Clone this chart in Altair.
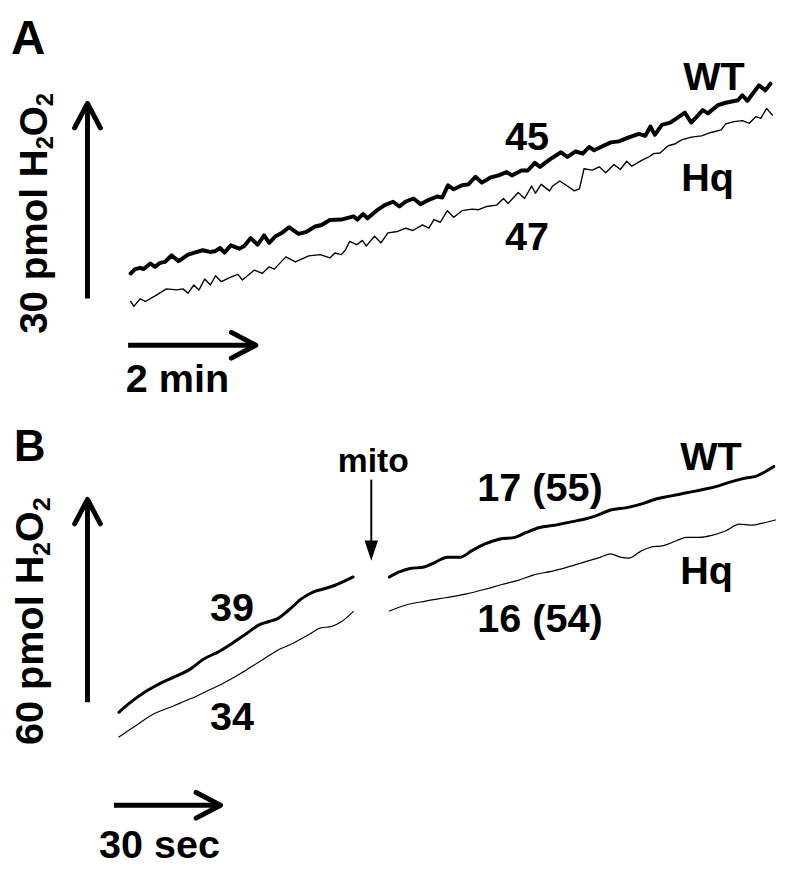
import altair as alt
import pandas as pd

FONT = "Liberation Sans"

# ---------------- Panel A: time (min) vs H2O2 (pmol) ----------------
A_WT = [(0.04,3.85),(0.11,4.52),(0.19,4.72),(0.24,4.52),(0.35,5.38),(0.42,4.87),(0.50,5.48),(0.58,5.63),
        (0.68,6.65),(0.79,5.74),(0.94,6.75),(1.04,7.05),(1.17,7.42),(1.28,7.16),(1.36,7.26),(1.44,7.77),
        (1.51,7.05),(1.61,8.18),(1.74,7.66),(1.82,8.07),(1.92,9.29),(2.03,8.27),(2.13,9.70),(2.21,8.57),
        (2.31,9.59),(2.41,10.10),(2.52,10.96),(2.67,9.94),(2.78,10.20),(2.93,11.07),(3.03,11.31),(3.16,12.08),
        (3.34,12.14),(3.53,12.64),(3.59,12.14),(3.68,12.99),(3.75,12.33),(3.89,13.51),(4.02,14.36),(4.15,14.88),
        (4.25,14.16),(4.35,14.92),(4.47,15.38),(4.58,14.51),(4.71,15.18),(4.84,15.69),(4.92,15.53),(5.01,17.41),
        (5.10,16.80),(5.23,17.41),(5.33,17.56),(5.44,18.73),(5.54,17.82),(5.67,18.58),(5.80,18.93),(5.93,19.45),
        (6.01,18.93),(6.16,19.69),(6.26,19.69),(6.37,20.86),(6.45,20.25),(6.60,21.37),(6.78,22.49),(6.88,21.78),
        (7.01,22.64),(7.12,22.28),(7.22,23.30),(7.30,22.80),(7.43,23.41),(7.56,24.01),(7.69,24.17),(7.81,24.67),
        (8.00,25.32),(8.10,25.02),(8.18,26.45),(8.25,25.17),(8.36,26.70),(8.49,27.06),(8.59,27.72),(8.72,28.58),
        (8.82,27.06),(8.93,28.22),(9.00,28.98),(9.08,28.48),(9.24,29.74),(9.36,30.11),(9.55,30.50),(9.62,31.26),
        (9.70,30.41),(9.88,32.79),(9.98,32.02),(10.06,33.04)]

A_HQ = [(0.04,-0.46),(0.09,-1.22),(0.19,-0.05),(0.27,-0.46),(0.45,0.56),(0.60,1.48),(0.76,1.32),(0.86,1.48),
        (0.94,0.81),(1.03,2.09),(1.11,1.32),(1.20,3.00),(1.29,2.09),(1.37,3.50),(1.46,2.59),(1.59,3.20),
        (1.72,3.70),(1.79,2.85),(1.98,4.37),(2.10,3.85),(2.21,4.87),(2.29,4.52),(2.47,6.40),(2.62,5.63),
        (2.83,6.55),(3.01,6.75),(3.16,6.24),(3.24,7.00),(3.34,6.75),(3.40,7.42),(3.47,8.79),(3.58,8.27),
        (3.67,8.94),(3.73,8.07),(3.86,9.59),(3.96,8.57),(4.07,10.10),(4.22,10.31),(4.35,10.81),(4.46,10.46),
        (4.61,11.31),(4.71,10.81),(4.79,12.14),(4.89,11.73),(5.00,13.51),(5.10,12.49),(5.23,13.51),(5.39,13.75),
        (5.49,13.66),(5.62,14.16),(5.77,14.36),(5.88,15.38),(5.95,14.62),(6.11,16.29),(6.21,15.38),(6.32,17.31),
        (6.38,16.19),(6.47,17.56),(6.60,16.55),(6.65,17.31),(6.76,18.08),(6.88,17.31),(6.99,16.55),(7.07,16.90),
        (7.14,19.95),(7.27,19.75),(7.38,20.25),(7.48,19.34),(7.61,20.60),(7.71,19.84),(7.81,21.12),(7.89,20.36),
        (8.05,21.27),(8.15,21.73),(8.23,22.28),(8.33,22.39),(8.46,23.50),(8.56,23.76),(8.67,24.41),(8.82,24.82),
        (8.98,25.02),(9.13,25.54),(9.29,25.93),(9.36,26.85),(9.49,27.21),(9.62,27.36),(9.73,26.95),(9.83,27.97),
        (9.91,27.72),(10.00,29.24),(10.09,28.22)]

# ---------------- Panel B: time (s) vs H2O2 (pmol) ----------------
B_WT1 = [(1.39,-2.93),(4.65,0.00),(9.28,3.42),(13.45,5.85),(17.63,7.81),(21.36,9.75),(25.07,12.67),
         (29.72,15.13),(33.43,17.56),(37.13,20.19),(40.86,22.91),(43.65,23.91),(45.96,24.67),(49.22,27.30),
         (52.92,30.73),(56.18,32.69),(59.42,33.65),(62.20,34.62),(67.33,37.08)]
B_HQ1 = [(1.39,-10.24),(5.57,-7.32),(11.14,-3.42),(15.79,-1.46),(21.36,0.97),(25.99,3.22),(30.64,5.56),
         (35.29,8.28),(39.00,10.74),(42.70,13.17),(46.43,15.60),(50.61,17.56),(54.79,19.99),(58.02,21.95),
         (61.28,22.45),(64.07,23.91),(67.33,26.84)]
B_WT2 = [(77.52,37.08),(80.31,38.54),(83.09,39.51),(87.27,40.00),(90.53,41.47),(93.79,42.93),(97.49,42.93),
         (100.75,44.86),(104.46,46.82),(108.64,48.29),(112.81,48.78),(116.07,50.25),(119.78,51.71),
         (123.96,52.38),(128.61,53.35),(132.31,54.14),(135.57,55.11),(139.75,56.86),(144.37,57.56),
         (149.03,58.82),(152.73,60.20),(156.46,60.96),(161.09,61.95),(165.74,62.92),(170.39,64.09),
         (174.09,65.35),(177.80,66.34),(180.58,66.81),(183.37,68.27),(185.71,69.74)]
B_HQ2 = [(77.52,27.01),(82.17,28.77),(87.74,29.94),(93.31,30.93),(98.89,31.99),(104.46,33.45),(109.11,34.83),
         (113.73,36.08),(118.38,37.75),(123.04,38.72),(127.66,40.00),(132.31,41.47),(136.96,42.93),
         (139.75,43.90),(142.53,42.93),(144.85,42.64),(148.11,44.57),(150.89,45.86),(154.60,46.33),
         (158.30,47.79),(161.09,48.78),(164.82,48.78),(168.52,49.46),(172.23,50.72),(175.96,52.68),
         (179.67,52.38),(182.45,52.97),(186.16,53.93)]

# scale bars: (label, x0, x1, y0, y1)
A_BARS = [("2 min", 0.0, 2.0, -7.20, -7.20), ("30 pmol", -0.636, -0.636, 0.0, 30.0)]
B_BARS = [("30 sec", 0.0, 30.0, -30.44, -30.44), ("60 pmol", -7.44, -7.44, 0.0, 60.0)]
B_MITO = [("mito", 72.42, 72.42, 65.85, 44.0)]
B_MITO_TIP = [(72.42, 41.85)]

# text labels (text, x, y)
A_LABELS = [("WT", 8.693, 32.13), ("Hq", 8.662, 16.60), ("45", 5.902, 22.84), ("47", 5.902, 7.46),
            ("2 min", -0.036, -14.31)]
B_LABELS = [("WT", 159.33, 68.77), ("Hq", 159.33, 35.12), ("17 (55)", 102.23, 59.41),
            ("16 (54)", 102.23, 20.78), ("39", 27.02, 24.00), ("34", 27.02, -8.19), ("30 sec", -4.18, -45.95)]
A_LETTER = [("A", -1.834, 37.61)]
B_LETTER = [("B", -28.13, 71.41)]
B_MITO_LABEL = [("mito", 72.98, 68.20)]
A_YLABEL = [("30 pmol H", "2", "O", "2", -1.276, -5.44)]
B_YLABEL = [("60 pmol H", "2", "O", "2", -19.92, -12.58)]

A_X_DOMAIN = [-1.881, 10.398]
A_Y_DOMAIN = [-16.90, 44.01]
B_X_DOMAIN = [-29.81, 190.81]
B_Y_DOMAIN = [-50.63, 86.92]


def trace_df(pairs, series, seg):
    return pd.DataFrame({"t": [p[0] for p in pairs], "v": [p[1] for p in pairs],
                         "series": series, "seg": seg})


def panel(xdom, ydom, traces, bars, labels, letter, ylabel, ysizes, wt_w, hq_w, interp,
          width, height, extra=None):
    X = lambda f="t": alt.X(f + ":Q", scale=alt.Scale(domain=xdom, nice=False, zero=False), axis=None)
    Y = lambda f="v": alt.Y(f + ":Q", scale=alt.Scale(domain=ydom, nice=False, zero=False), axis=None)
    layers = []
    df = pd.concat(traces, ignore_index=True)
    for s, w in (("WT", wt_w), ("Hq", hq_w)):
        layers.append(
            alt.Chart(df[df.series == s]).mark_line(color="black", strokeWidth=w, strokeJoin="round",
                                                    strokeCap="round", interpolate=interp)
            .encode(x=X(), y=Y(), detail="seg:N", order="t:Q"))
    bdf = pd.DataFrame(bars, columns=["name", "t", "t2", "v", "v2"])
    layers.append(alt.Chart(bdf).mark_rule(color="black", strokeWidth=5)
                  .encode(x=X(), x2="t2:Q", y=Y(), y2="v2:Q"))
    hx = bdf[bdf.v == bdf.v2]
    vx = bdf[bdf.t == bdf.t2]
    layers.append(alt.Chart(pd.DataFrame({"t": hx.t2, "v": hx.v}))
                  .mark_point(shape="M -1.9 -1 L 0 0 L -1.9 1", filled=False, stroke="black", strokeWidth=5,
                              size=676, strokeCap="round", strokeJoin="round", opacity=1)
                  .encode(x=X(), y=Y()))
    layers.append(alt.Chart(pd.DataFrame({"t": vx.t, "v": vx.v2}))
                  .mark_point(shape="M -1 1.9 L 0 0 L 1 1.9", filled=False, stroke="black", strokeWidth=5,
                              size=676, strokeCap="round", strokeJoin="round", opacity=1)
                  .encode(x=X(), y=Y()))
    ldf = pd.DataFrame(labels, columns=["text", "t", "v"])
    layers.append(alt.Chart(ldf).mark_text(align="left", baseline="alphabetic", font=FONT, fontWeight="bold",
                                           fontSize=40, color="black")
                  .encode(x=X(), y=Y(), text="text:N"))
    lt = pd.DataFrame(letter[0:1], columns=["text", "t", "v"])
    layers.append(alt.Chart(lt).mark_text(align="left", baseline="alphabetic", font=FONT, fontWeight="bold",
                                          fontSize=letter[1], color="black")
                  .encode(x=X(), y=Y(), text="text:N"))
    # rotated y label with subscripts
    main, sub1, o, sub2, yt, yv = ylabel
    big, small, offs, sdy = ysizes
    pieces = [(main, big, offs[0], 0), (sub1, small, offs[1], sdy), (o, big, offs[2], 0), (sub2, small, offs[3], sdy)]
    for txt, fs, dx, dy in pieces:
        layers.append(alt.Chart(pd.DataFrame({"text": [txt], "t": [yt], "v": [yv]}))
                      .mark_text(align="left", baseline="alphabetic", font=FONT, fontWeight="bold",
                                 fontSize=fs, angle=270, dx=dx, dy=dy, color="black")
                      .encode(x=X(), y=Y(), text="text:N"))
    if extra:
        layers.extend(extra(X, Y))
    return alt.layer(*layers).properties(width=width, height=height)


def mito_layers(X, Y):
    mdf = pd.DataFrame(B_MITO, columns=["name", "t", "t2", "v", "v2"])
    out = [alt.Chart(mdf).mark_rule(color="black", strokeWidth=2).encode(x=X(), x2="t2:Q", y=Y(), y2="v2:Q")]
    tip = pd.DataFrame(B_MITO_TIP, columns=["t", "v"])
    out.append(alt.Chart(tip).mark_point(shape="M -1 -3 L 0 0 L 1 -3 Z", filled=True, fill="black",
                                         strokeWidth=0, size=185, opacity=1)
               .encode(x=X(), y=Y()))
    ml = pd.DataFrame(B_MITO_LABEL, columns=["text", "t", "v"])
    out.append(alt.Chart(ml).mark_text(align="center", baseline="alphabetic", font=FONT, fontWeight="bold",
                                       fontSize=34, color="black")
               .encode(x=X(), y=Y(), text="text:N"))
    return out


panelA = panel(A_X_DOMAIN, A_Y_DOMAIN,
               [trace_df(A_WT, "WT", 1), trace_df(A_HQ, "Hq", 1)],
               A_BARS, A_LABELS, (A_LETTER[0], 48), A_YLABEL[0],
               (39, 24, [0, 186.4, 199.7, 230.0], 6), 4, 1.4, "linear", 792, 400)

panelB = panel(B_X_DOMAIN, B_Y_DOMAIN,
               [trace_df(B_WT1, "WT", 1), trace_df(B_WT2, "WT", 2),
                trace_df(B_HQ1, "Hq", 1), trace_df(B_HQ2, "Hq", 2)],
               B_BARS, B_LABELS, (B_LETTER[0], 44), B_YLABEL[0],
               (40, 25, [0, 191.2, 205.1, 236.2], 7), 3, 1.2, "monotone", 792, 470, extra=mito_layers)

chart = (alt.vconcat(panelA, panelB, spacing=0)
         .resolve_scale(x="independent", y="independent")
         .properties(padding=0, bounds="flush")
         .configure_view(stroke=None))

chart.save("out.html", embed_options={"renderer": "svg", "actions": False})
